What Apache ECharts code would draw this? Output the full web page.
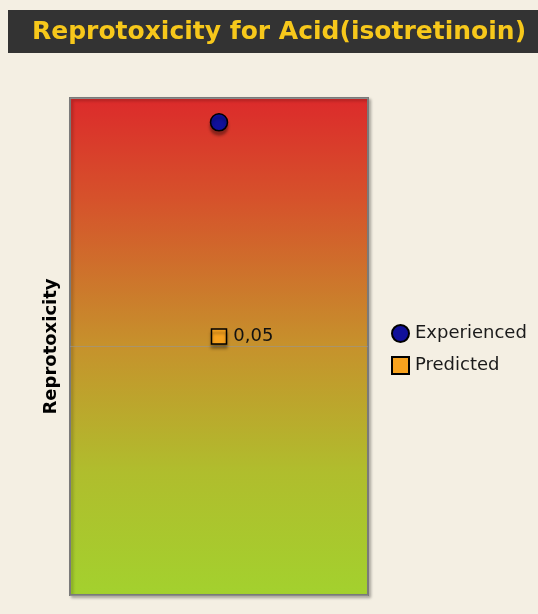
<!DOCTYPE html>
<html>
<head>
<meta charset="utf-8">
<script src="https://cdn.jsdelivr.net/npm/echarts@6/dist/echarts.min.js"></script>
<style>
html,body{margin:0;padding:0;background:#f3eee2;}
#main{width:538px;height:614px;}
</style>
</head>
<body>
<div id="main"></div>
<script>
var titleText = 'Reprotoxicity for Acid(isotretinoin)';
var axisName = 'Reprotoxicity';
// position of each marker on the 0..1 scale of the coloured band
var experienced = [[0.5, 0.951]];
var predicted = [[0.5, 0.52]];
var predictedLabels = ['0,05'];

var chart = echarts.init(document.getElementById('main'));
var option = {
    backgroundColor: '#f4efe3',
    animation: false,
    graphic: [{
        type: 'rect',
        shape: {x: 8, y: 10, width: 540, height: 43},
        style: {fill: '#333333'},
        z: 0
    }],
    title: {
        text: titleText,
        left: 27,
        top: 15,
        textStyle: {
            color: '#f7c81b',
            fontFamily: 'DejaVu Sans',
            fontWeight: 'bold',
            fontSize: 25
        },
        z: 5
    },
    legend: {
        orient: 'vertical',
        left: 386,
        top: 319,
        itemGap: 13,
        itemWidth: 17,
        itemHeight: 17,
        textStyle: {
            fontFamily: 'DejaVu Sans',
            fontSize: 18,
            color: '#1a1a1a',
            padding: [0, 0, 0, 1]
        },
        data: [
            {name: 'Experienced', icon: 'circle'},
            {name: 'Predicted', icon: 'rect'}
        ]
    },
    grid: {
        left: 70,
        top: 98,
        right: 170,
        bottom: 19,
        show: true,
        borderColor: '#7a7a7a',
        borderWidth: 2,
        shadowColor: 'rgba(0,0,0,0.25)',
        shadowOffsetX: 2,
        shadowOffsetY: 2,
        shadowBlur: 3,
        backgroundColor: {
            type: 'linear', x: 0, y: 0, x2: 0, y2: 1,
            colorStops: [
                {offset: 0, color: '#dc2a2b'},
                {offset: 0.2, color: '#d6512b'},
                {offset: 0.5, color: '#c6922c'},
                {offset: 0.75, color: '#b0bd2d'},
                {offset: 1, color: '#a3d12e'}
            ]
        }
    },
    xAxis: {
        type: 'value',
        min: 0,
        max: 1,
        show: false
    },
    yAxis: {
        type: 'value',
        min: 0,
        max: 1,
        interval: 0.5,
        name: axisName,
        nameLocation: 'middle',
        nameRotate: 90,
        nameGap: 10,
        nameTextStyle: {
            fontFamily: 'DejaVu Sans',
            fontWeight: 'bold',
            fontSize: 18,
            color: '#000'
        },
        axisLine: {show: false},
        axisTick: {show: false},
        axisLabel: {show: false},
        splitLine: {
            show: true,
            lineStyle: {color: 'rgba(150,150,150,0.6)', width: 1}
        }
    },
    series: [
        {
            name: 'Experienced',
            type: 'scatter',
            symbol: 'circle',
            symbolSize: 17,
            itemStyle: {
                opacity: 1,
                color: '#10109a',
                borderColor: '#000',
                borderWidth: 1.5,
                shadowColor: 'rgba(0,0,0,0.35)',
                shadowOffsetY: 4,
                shadowBlur: 3
            },
            data: experienced
        },
        {
            name: 'Predicted',
            type: 'scatter',
            symbol: 'rect',
            symbolSize: 15,
            itemStyle: {
                opacity: 1,
                color: '#f7a21e',
                borderColor: '#000',
                borderWidth: 1.5,
                shadowColor: 'rgba(0,0,0,0.35)',
                shadowOffsetY: 4,
                shadowBlur: 3
            },
            label: {
                show: true,
                position: 'right',
                distance: 6,
                fontFamily: 'DejaVu Sans',
                fontSize: 18,
                color: '#111',
                formatter: function (p) { return predictedLabels[p.dataIndex]; }
            },
            data: predicted
        }
    ]
};
chart.setOption(option);
</script>
</body>
</html>
